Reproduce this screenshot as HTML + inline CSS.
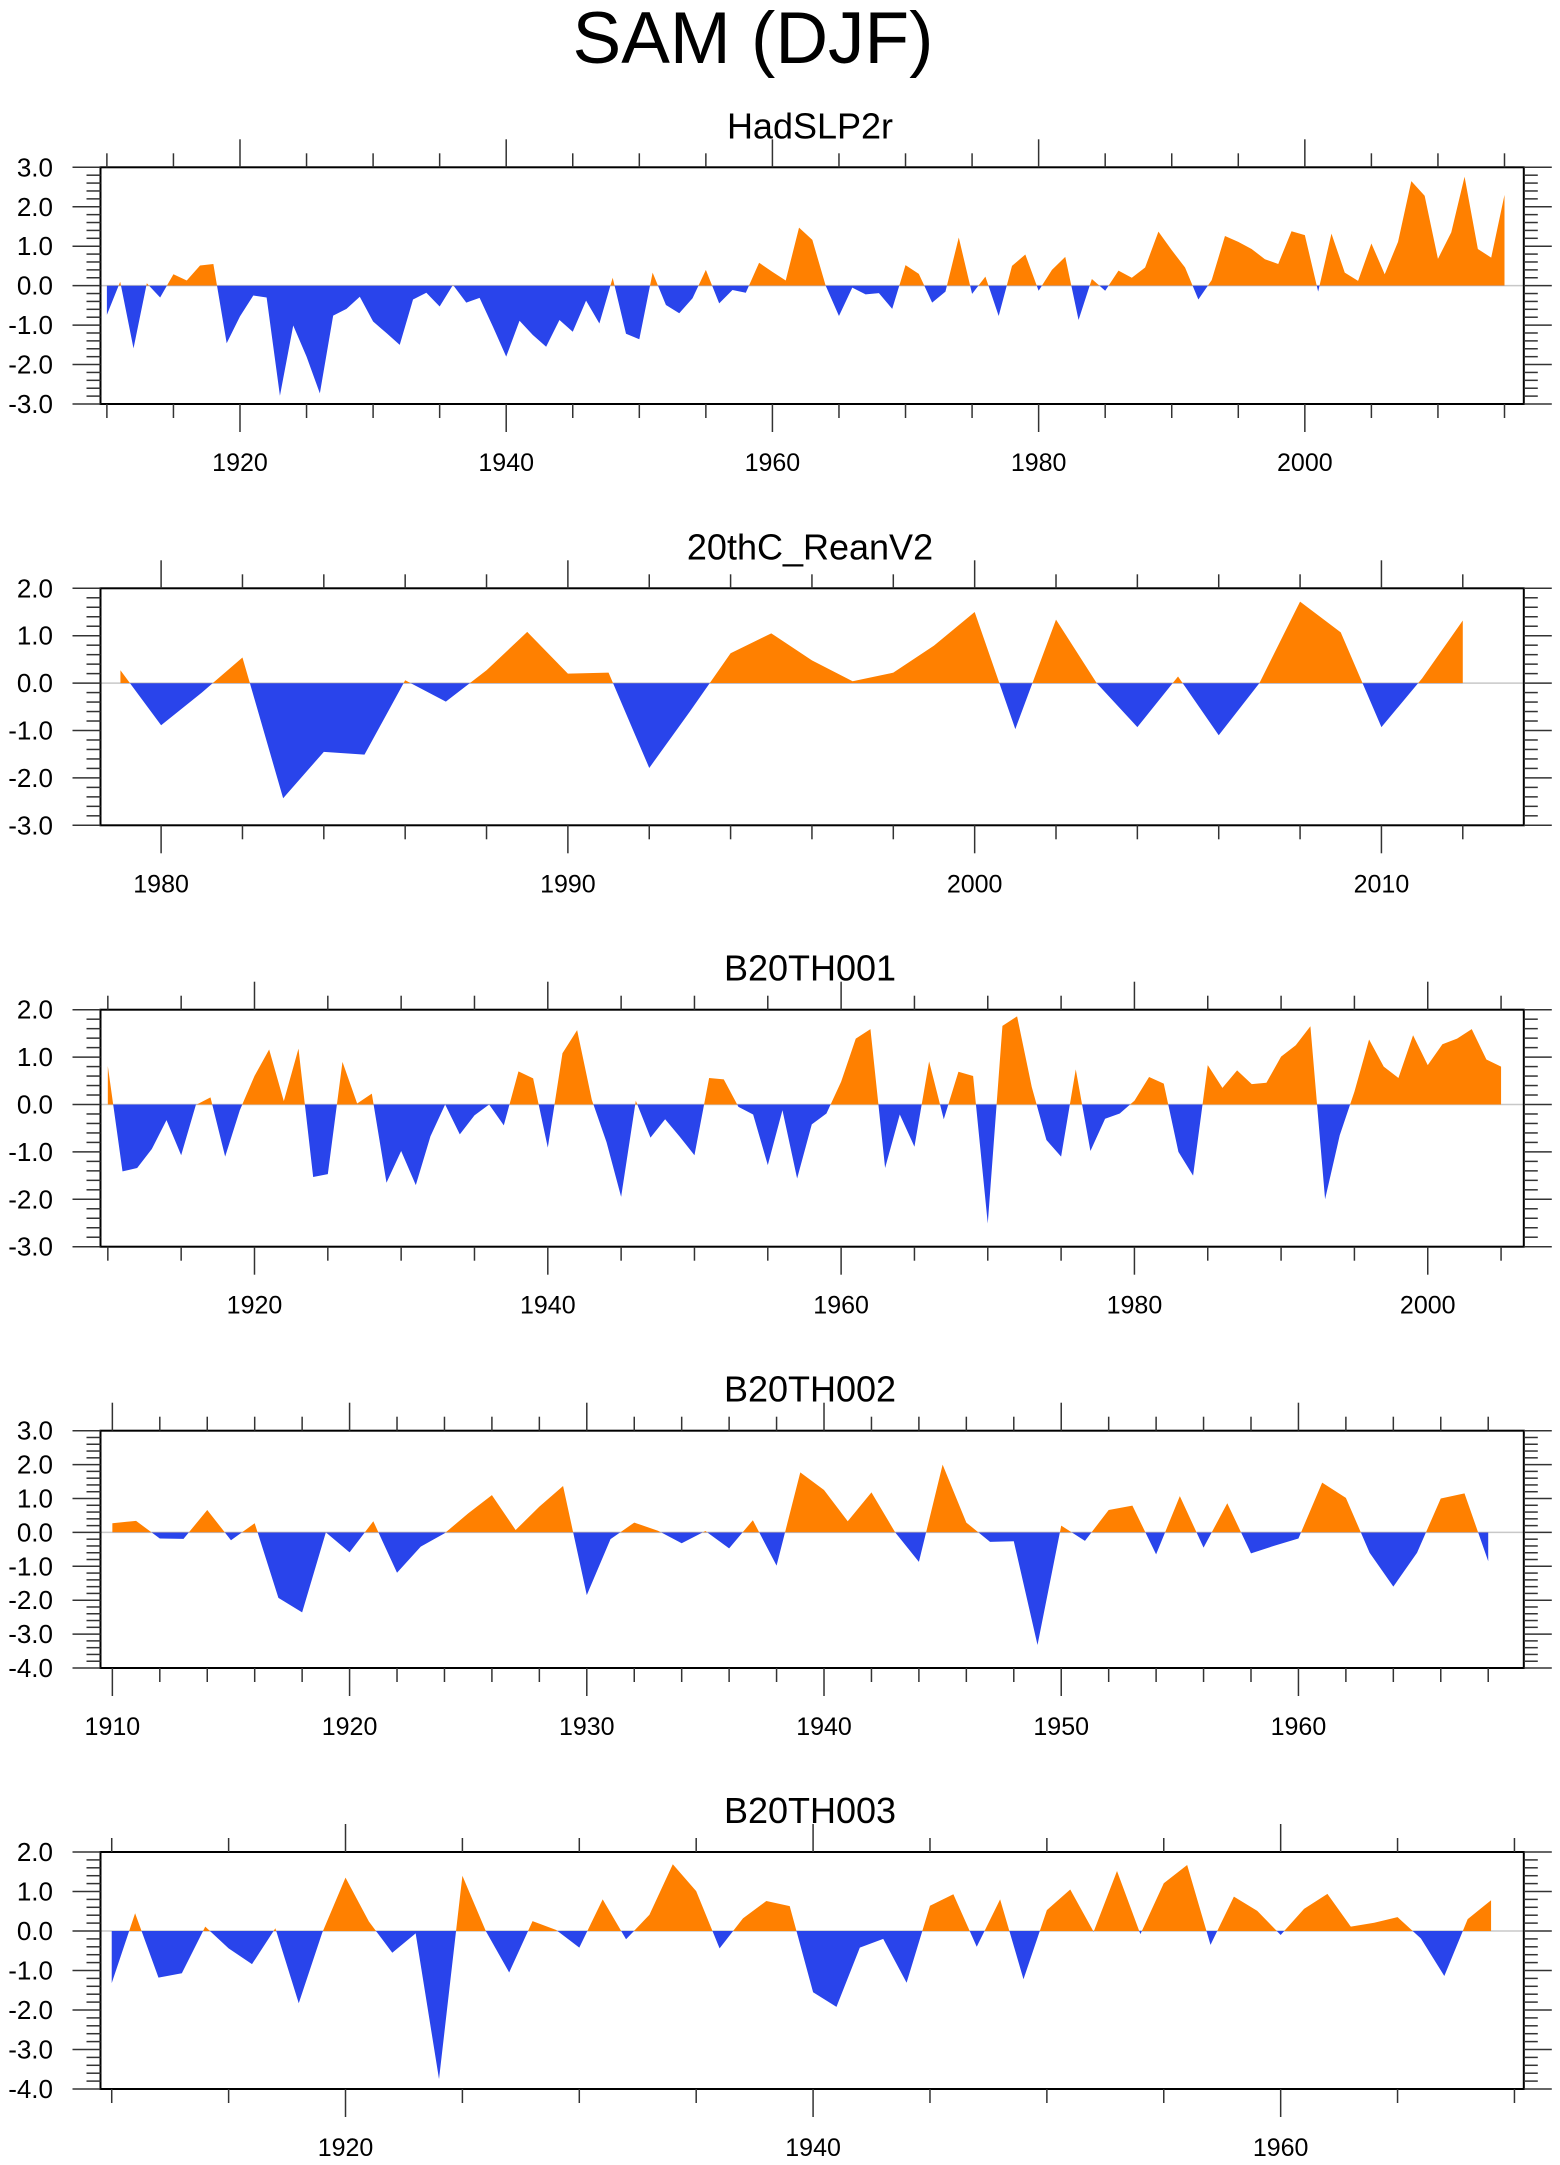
<!DOCTYPE html>
<html><head><meta charset="utf-8"><title>SAM (DJF)</title>
<style>
html,body{margin:0;padding:0;background:#fff;}
svg{display:block;font-family:"Liberation Sans",Arial,sans-serif;}
</style></head>
<body>
<svg id="chart" xmlns="http://www.w3.org/2000/svg" width="1560" height="2165" viewBox="0 0 1560 2165">
<text x="753" y="63" font-size="73" text-anchor="middle" fill="#000">SAM (DJF)</text>
</svg>
<script>
// ---- data ----
const hadYears0 = 1910;
const hadValues = [-0.74,0.1,-1.59,0.06,-0.3,0.29,0.13,0.51,0.55,-1.46,-0.78,-0.25,-0.3,-2.79,-1.01,-1.8,-2.73,-0.76,-0.59,-0.28,-0.91,-1.2,-1.5,-0.35,-0.18,-0.53,0.02,-0.43,-0.31,-1.04,-1.8,-0.89,-1.25,-1.55,-0.87,-1.17,-0.38,-0.96,0.2,-1.22,-1.36,0.33,-0.49,-0.7,-0.32,0.4,-0.45,-0.11,-0.18,0.58,0.35,0.13,1.47,1.16,0.0,-0.77,-0.05,-0.22,-0.19,-0.59,0.52,0.3,-0.43,-0.15,1.22,-0.21,0.23,-0.77,0.5,0.79,-0.13,0.4,0.73,-0.87,0.17,-0.13,0.38,0.2,0.46,1.37,0.9,0.46,-0.35,0.14,1.26,1.11,0.93,0.67,0.55,1.38,1.28,-0.15,1.32,0.33,0.12,1.07,0.29,1.11,2.65,2.28,0.68,1.35,2.76,0.93,0.71,2.3];
const reanYears0 = 1979;
const reanValues = [0.27,-0.89,-0.2,0.54,-2.43,-1.45,-1.51,0.06,-0.39,0.27,1.08,0.2,0.22,-1.79,-0.6,0.63,1.05,0.48,0.04,0.22,0.79,1.5,-0.97,1.34,0.0,-0.93,0.14,-1.1,0.0,1.72,1.07,-0.93,0.1,1.32];
const b001Years0 = 1910;
const b001Values = [0.81,-1.41,-1.34,-0.94,-0.33,-1.07,-0.01,0.15,-1.1,-0.12,0.6,1.16,0.07,1.18,-1.53,-1.47,0.9,0.02,0.23,-1.65,-0.98,-1.7,-0.67,0.0,-0.63,-0.23,0.0,-0.44,0.7,0.55,-0.91,1.08,1.57,0.1,-0.79,-1.95,0.08,-0.7,-0.31,-0.68,-1.07,0.56,0.53,-0.05,-0.21,-1.28,-0.12,-1.56,-0.42,-0.19,0.48,1.39,1.59,-1.34,-0.21,-0.89,0.91,-0.31,0.69,0.6,-2.51,1.66,1.86,0.37,-0.75,-1.1,0.74,-0.98,-0.3,-0.19,0.08,0.58,0.44,-1.0,-1.5,0.83,0.35,0.72,0.43,0.46,1.01,1.25,1.65,-2.0,-0.65,0.27,1.37,0.8,0.56,1.46,0.83,1.27,1.39,1.59,0.95,0.8];
const b002Years0 = 1910;
const b002Values = [0.27,0.34,-0.18,-0.19,0.66,-0.23,0.27,-1.93,-2.36,0.0,-0.59,0.33,-1.19,-0.42,-0.03,0.56,1.1,0.07,0.76,1.37,-1.85,-0.2,0.29,0.05,-0.32,0.04,-0.47,0.36,-0.98,1.77,1.25,0.33,1.18,0.0,-0.87,2.0,0.29,-0.28,-0.26,-3.32,0.2,-0.25,0.66,0.79,-0.65,1.07,-0.45,0.86,-0.62,-0.39,-0.18,1.47,1.02,-0.6,-1.6,-0.6,1.0,1.15,-0.85];
const b003Years0 = 1910;
const b003Values = [-1.32,0.45,-1.18,-1.07,0.11,-0.44,-0.84,0.07,-1.83,-0.05,1.35,0.24,-0.55,-0.06,-3.75,1.4,0.0,-1.05,0.25,0.03,-0.42,0.8,-0.21,0.41,1.69,1.01,-0.44,0.32,0.76,0.63,-1.55,-1.92,-0.42,-0.2,-1.31,0.64,0.93,-0.4,0.8,-1.22,0.53,1.05,-0.02,1.52,-0.08,1.21,1.67,-0.35,0.87,0.51,-0.1,0.56,0.94,0.11,0.21,0.35,-0.19,-1.14,0.3,0.78];
const yTickLabels1 = ["3.0","2.0","1.0","0.0","-1.0","-2.0","-3.0"];
const yTickLabels2 = ["2.0","1.0","0.0","-1.0","-2.0","-3.0"];
const yTickLabels4 = ["3.0","2.0","1.0","0.0","-1.0","-2.0","-3.0","-4.0"];
const yTickLabels5 = ["2.0","1.0","0.0","-1.0","-2.0","-3.0","-4.0"];

const panels = [
 {name:"hadslp2r",title:"HadSLP2r",top:167.3,bot:404,yMin:-3,yMax:3,xMin:1909.52,xMax:2016.45,major:20,minor:5,y0:hadYears0,vals:hadValues,ylab:yTickLabels1},
 {name:"20thc-reanv2",title:"20thC_ReanV2",top:588.3,bot:825.3,yMin:-3,yMax:2,xMin:1978.51,xMax:2013.5,major:10,minor:2,y0:reanYears0,vals:reanValues,ylab:yTickLabels2},
 {name:"b20th001",title:"B20TH001",top:1009.7,bot:1246.7,yMin:-3,yMax:2,xMin:1909.5,xMax:2006.55,major:20,minor:5,y0:b001Years0,vals:b001Values,ylab:yTickLabels2},
 {name:"b20th002",title:"B20TH002",top:1430.7,bot:1668,yMin:-4,yMax:3,xMin:1909.5,xMax:1969.5,major:10,minor:2,y0:b002Years0,vals:b002Values,ylab:yTickLabels4},
 {name:"b20th003",title:"B20TH003",top:1852,bot:2089,yMin:-4,yMax:2,xMin:1909.52,xMax:1970.4,major:20,minor:5,y0:b003Years0,vals:b003Values,ylab:yTickLabels5}
];
const NS="http://www.w3.org/2000/svg";
const svg=document.getElementById('chart');
const L=100.5,R=1523.8;
function mk(tag,attrs,parent){const e=document.createElementNS(NS,tag);for(const k in attrs)e.setAttribute(k,attrs[k]);(parent||svg).appendChild(e);return e;}
panels.forEach((p,pi)=>{
  const g=mk('g',{});
  
  
  const sx=v=>L+(v-p.xMin)/(p.xMax-p.xMin)*(R-L);
  const sy=v=>p.bot-(v-p.yMin)/(p.yMax-p.yMin)*(p.bot-p.top);
  const zy=sy(0);
  const defs=mk('defs',{},g);
  const ca=mk('clipPath',{id:'ca'+pi},defs); mk('rect',{x:L,y:p.top,width:R-L,height:zy-p.top},ca);
  const cb=mk('clipPath',{id:'cb'+pi},defs); mk('rect',{x:L,y:zy,width:R-L,height:p.bot-zy},cb);
  let pts=[];
  p.vals.forEach((v,i)=>pts.push(sx(p.y0+i).toFixed(2)+','+sy(v).toFixed(2)));
  const x0=sx(p.y0), x1=sx(p.y0+p.vals.length-1);
  const poly=x0.toFixed(2)+','+zy.toFixed(2)+' '+pts.join(' ')+' '+x1.toFixed(2)+','+zy.toFixed(2);
  const zl=mk('line',{x1:L,x2:R,y1:zy,y2:zy,stroke:'#c8c8c8','stroke-width':1.5},g);
  
  
  const pa=mk('polygon',{points:poly,fill:'#ff8000','clip-path':'url(#ca'+pi+')'},g);
  
  
  const pb=mk('polygon',{points:poly,fill:'#2944eb','clip-path':'url(#cb'+pi+')'},g);
  
  
  const fr=mk('rect',{x:L,y:p.top,width:R-L,height:p.bot-p.top,fill:'none',stroke:'#000','stroke-width':2},g);
  
  
  const start=Math.ceil(p.xMin/p.minor)*p.minor;
  for(let yr=start;yr<=p.xMax;yr+=p.minor){
    const x=sx(yr), maj=(yr%p.major===0), len=maj?28:14;
    mk('line',{x1:x,x2:x,y1:p.top-len,y2:p.top,stroke:'#333','stroke-width':1.5},g);
    mk('line',{x1:x,x2:x,y1:p.bot,y2:p.bot+len,stroke:'#333','stroke-width':1.5},g);
    if(maj){
      const t=mk('text',{x:x,y:p.bot+67,'font-size':25,'text-anchor':'middle',fill:'#000'},g);
      t.textContent=yr;
      
      
    }
  }
  for(let k=Math.round(p.yMin*5);k<=Math.round(p.yMax*5);k++){
    const v=k/5,y=sy(v),maj=(k%5===0),len=maj?28:14;
    mk('line',{x1:L-len,x2:L,y1:y,y2:y,stroke:'#333','stroke-width':1.5},g);
    mk('line',{x1:R,x2:R+len,y1:y,y2:y,stroke:'#333','stroke-width':1.5},g);
  }
  p.ylab.forEach((lab,i)=>{
    const v=p.yMax-i;
    const t=mk('text',{x:53,y:sy(v)+9,'font-size':26,'text-anchor':'end',fill:'#000'},g);
    t.textContent=lab;
    
    
  });
  const tt=mk('text',{x:810,y:p.top-29,'font-size':36,'text-anchor':'middle',fill:'#000'},g);
  tt.textContent=p.title;
  
  
});
</script>
</body></html>
